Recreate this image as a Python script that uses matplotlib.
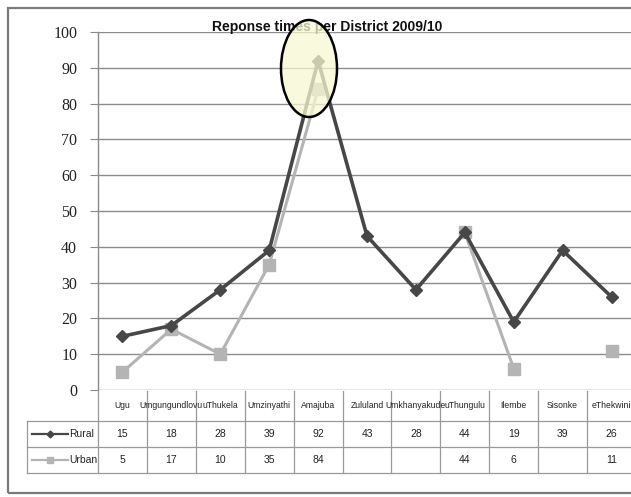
import numpy as np
import matplotlib
matplotlib.use("Agg")
import matplotlib.pyplot as plt
from matplotlib.patches import Ellipse, Rectangle
from matplotlib.lines import Line2D
from matplotlib.transforms import blended_transform_factory

districts = ["Ugu", "Umgungundlovu", "uThukela", "Umzinyathi", "Amajuba", "Zululand",
             "Umkhanyakude", "uThungulu", "Ilembe", "Sisonke", "eThekwini"]
rural = [15, 18, 28, 39, 92, 43, 28, 44, 19, 39, 26]
urban = [5, 17, 10, 35, 84, None, None, 44, 6, None, 11]
y_ticks = [0, 10, 20, 30, 40, 50, 60, 70, 80, 90, 100]
title = "Reponse times per District 2009/10"

W, H = 631, 497
fig = plt.figure(figsize=(W / 100, H / 100), dpi=100)
fig.patch.set_facecolor("white")

def fx(px):
    return px / W

def fy(py):
    return 1 - py / H

# plot area
x_left, x_right = 98, 636
y_top, y_bot = 32, 390
ax = fig.add_axes([fx(x_left), fy(y_bot), fx(x_right - x_left), (y_bot - y_top) / H])
n = len(districts)
x = np.arange(n)
ax.set_xlim(-0.5, n - 0.5)
ax.set_ylim(0, 100)

for s in ["top", "right", "bottom"]:
    ax.spines[s].set_visible(False)
ax.spines["left"].set_color("#8a8a8a")
ax.spines["left"].set_linewidth(1.0)
ax.set_yticks(y_ticks)
ax.set_yticklabels([str(v) for v in y_ticks], fontsize=11.5,
                   family=["Liberation Serif", "DejaVu Serif"])
ax.tick_params(axis="y", length=6, color="#8a8a8a", pad=9, labelcolor="#222222")
ax.set_xticks([])
ax.grid(axis="y", color="#8c8c8c", linewidth=1.0)
ax.set_axisbelow(True)

rural_arr = np.array(rural, dtype=float)
urban_arr = np.array([np.nan if v is None else v for v in urban], dtype=float)

ax.plot(x, urban_arr, color="#b4b4b4", linewidth=2.2, marker="s", markersize=8,
        markerfacecolor="#b4b4b4", markeredgecolor="#b4b4b4", zorder=3, clip_on=False)
ax.plot(x, rural_arr, color="#474747", linewidth=2.6, marker="D", markersize=6.5,
        markerfacecolor="#474747", markeredgecolor="#474747", zorder=4, clip_on=False)

fig.text(fx(327), fy(27), title, ha="center", va="center", fontsize=10,
         fontweight="bold", family=["Liberation Sans", "DejaVu Sans"],
         color="#111111", zorder=1)

# highlight around the Amajuba peak
ell_c, ell_w, ell_h = (fx(309), fy(68.5)), fx(56), 97 / H
fig.add_artist(Ellipse(ell_c, ell_w, ell_h, transform=fig.transFigure,
                       facecolor="#f7f7d2", alpha=0.75, edgecolor="none", zorder=5))
fig.add_artist(Ellipse(ell_c, ell_w, ell_h, transform=fig.transFigure,
                       facecolor="none", edgecolor="black", linewidth=1.8, zorder=6))

# data table below the plot
tr = blended_transform_factory(ax.transData, fig.transFigure)
row_header = (391, 421)
row_rural = (421, 447)
row_urban = (447, 473)
leg_left = 27
grid_c = "#9a9a9a"
tfont = ["Liberation Sans", "DejaVu Sans"]

for i in range(n + 1):
    xb = i - 0.5
    fig.add_artist(Line2D([xb, xb], [fy(row_header[0]), fy(row_urban[1])],
                          transform=tr, color=grid_c, linewidth=0.9))
for yy in (row_rural[0], row_urban[0], row_urban[1]):
    fig.add_artist(Line2D([fx(leg_left), 1.0], [fy(yy), fy(yy)],
                          transform=fig.transFigure, color=grid_c, linewidth=0.9))
fig.add_artist(Line2D([fx(leg_left), fx(leg_left)], [fy(row_rural[0]), fy(row_urban[1])],
                      transform=fig.transFigure, color=grid_c, linewidth=0.9))

for i, name in enumerate(districts):
    fig.text(i, fy(sum(row_header) / 2), name, transform=tr, ha="center", va="center",
             fontsize=6.2, family=tfont, color="#222222")
    fig.text(i, fy(sum(row_rural) / 2), str(rural[i]), transform=tr, ha="center",
             va="center", fontsize=7.5, family=tfont, color="#222222")
    if urban[i] is not None:
        fig.text(i, fy(sum(row_urban) / 2), str(urban[i]), transform=tr, ha="center",
                 va="center", fontsize=7.5, family=tfont, color="#222222")

# legend keys inside the table
for label, (r0, r1), col, mk, ms in [("Rural", row_rural, "#474747", "D", 3.5),
                                     ("Urban", row_urban, "#b4b4b4", "s", 4)]:
    yc = fy((r0 + r1) / 2)
    fig.add_artist(Line2D([fx(32), fx(68)], [yc, yc], transform=fig.transFigure,
                          color=col, linewidth=1.6))
    fig.add_artist(Line2D([fx(50)], [yc], transform=fig.transFigure, color=col,
                          marker=mk, markersize=ms, linestyle="none"))
    fig.text(fx(69), yc, label, ha="left", va="center", fontsize=7.5, family=tfont,
             color="#222222")

# outer chart frame
fig.add_artist(Rectangle((fx(8), fy(493)), 1.2, (493 - 8) / H, transform=fig.transFigure,
                         facecolor="none", edgecolor="#7a7a7a", linewidth=1.6))

fig.savefig("out.png", dpi=100)
